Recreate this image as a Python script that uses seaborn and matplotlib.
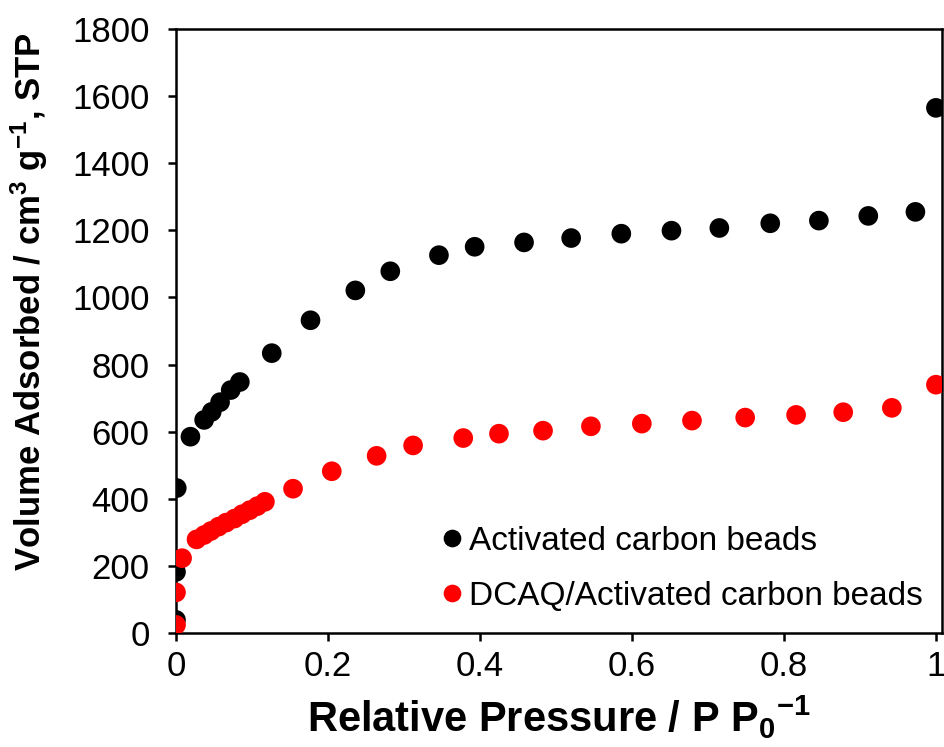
import pandas as pd
import matplotlib
matplotlib.use('Agg')
import matplotlib.pyplot as plt
import seaborn as sns

# Activated carbon beads (black)
ac_p = [0.0, 0.0, 0.001, 0.019, 0.037, 0.047, 0.058, 0.072, 0.084, 0.126, 0.177,
        0.236, 0.282, 0.346, 0.393, 0.458, 0.520, 0.586, 0.652, 0.715, 0.782,
        0.846, 0.911, 0.973, 1.0]
ac_v = [39, 182, 432, 585, 635, 659, 688, 724, 748, 834, 932,
        1021, 1078, 1126, 1151, 1164, 1177, 1190, 1199, 1207, 1221,
        1229, 1243, 1255, 1565]

# DCAQ/Activated carbon beads (red)
dc_p = [0.0, 0.0, 0.008, 0.027, 0.037, 0.046, 0.056, 0.066, 0.077, 0.087, 0.097,
        0.107, 0.117, 0.154, 0.205, 0.264, 0.312, 0.378, 0.425, 0.483, 0.546,
        0.613, 0.679, 0.749, 0.816, 0.878, 0.942, 1.0]
dc_v = [24, 121, 223, 279, 292, 304, 317, 329, 341, 354, 366,
        378, 391, 430, 482, 528, 559, 581, 594, 603, 616,
        624, 633, 642, 650, 658, 671, 740]

labels = ['Activated carbon beads', 'DCAQ/Activated carbon beads']
colors = ['black', 'red']

xticks = [0, 0.2, 0.4, 0.6, 0.8, 1.0]
xticklabels = ['0', '0.2', '0.4', '0.6', '0.8', '1']
yticks = list(range(0, 1801, 200))

df = pd.concat([
    pd.DataFrame({'p': ac_p, 'v': ac_v, 'sample': labels[0]}),
    pd.DataFrame({'p': dc_p, 'v': dc_v, 'sample': labels[1]}),
])

sns.set_style('ticks')
plt.rcParams['font.family'] = ['Liberation Sans', 'DejaVu Sans']
plt.rcParams['text.color'] = 'black'
plt.rcParams['axes.labelcolor'] = 'black'
plt.rcParams['mathtext.fontset'] = 'custom'
plt.rcParams['mathtext.rm'] = 'Liberation Sans:bold'
plt.rcParams['mathtext.it'] = 'Liberation Sans:bold:italic'
plt.rcParams['mathtext.default'] = 'rm'

fig = plt.figure(figsize=(9.44, 7.47), dpi=100)
ax = fig.add_axes([176 / 944, 1 - 633 / 747, 766 / 944, 604 / 747])

sns.scatterplot(data=df, x='p', y='v', hue='sample', palette=dict(zip(labels, colors)),
                s=200, edgecolor='none', ax=ax, legend=True, zorder=3)

ax.set_xlim(0, 1.008)
ax.set_ylim(0, 1800)
ax.set_xticks(xticks)
ax.set_xticklabels(xticklabels)
ax.set_yticks(yticks)
ax.tick_params(axis='both', direction='out', length=6, width=1.8, labelsize=25,
               colors='black', pad=6)
ax.tick_params(axis='y', pad=13)
for side in ['left', 'bottom', 'top', 'right']:
    ax.spines[side].set_linewidth(1.8)
    ax.spines[side].set_color('black')

ax.set_xlabel(r'Relative Pressure / P P$_{0}$$^{-1}$', fontsize=30, fontweight='bold', labelpad=8)
ax.set_ylabel(r'Volume Adsorbed / cm$^{3}$ g$^{-1}$, STP', fontsize=25, fontweight='bold')
ax.yaxis.set_label_coords(-0.165, 0.548)

leg = ax.legend(loc='lower right', bbox_to_anchor=(0.975, 0.035), frameon=False, fontsize=24,
                handletextpad=0.1, handlelength=0.8, labelspacing=0.72, markerscale=0.9,
                borderpad=0.0, borderaxespad=0.0)
leg.set_title(None)

fig.savefig('out.png', dpi=100)
